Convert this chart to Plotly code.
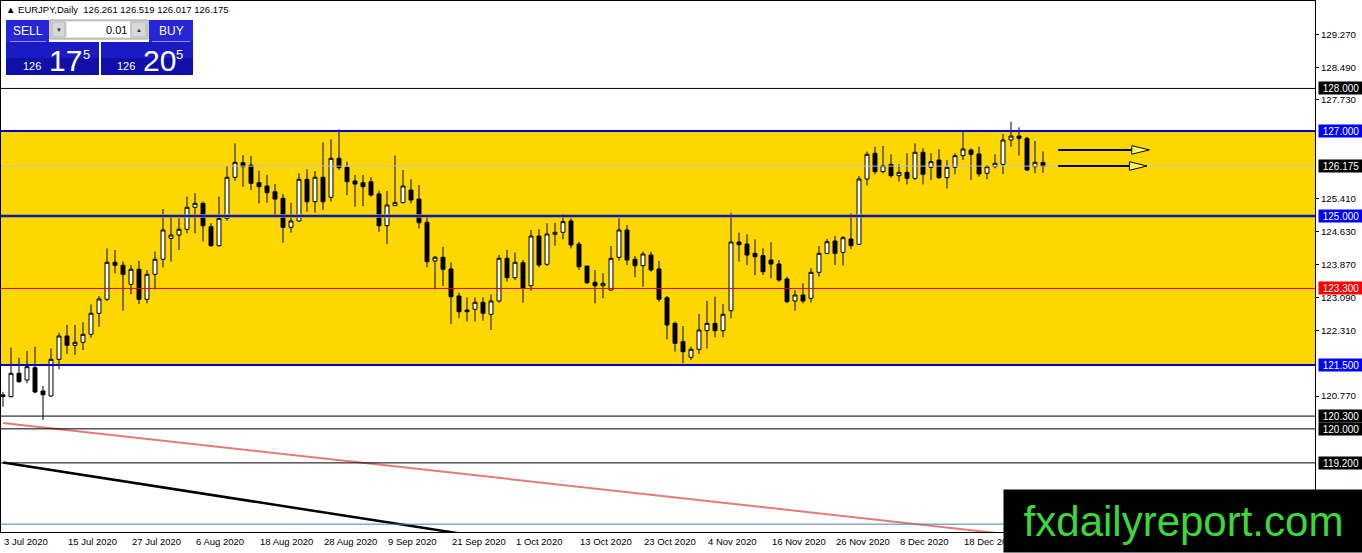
import plotly.graph_objects as go

# ──────────────────────────────────────────────
# datos EURJPY diario
# ──────────────────────────────────────────────

apertura = [120.76, 120.756, 121.305, 121.148, 121.437, 120.89, 120.772, 121.634, 122.182, 121.963,
            122.034, 122.222, 122.716, 123.045, 123.914, 123.844, 123.397, 123.75, 123.045, 123.632,
            123.985, 124.478, 124.556, 124.69, 125.207, 125.30, 124.751, 124.304, 124.948, 125.912,
            126.255, 126.20, 125.785, 125.707, 125.573, 125.418, 124.737, 124.885, 125.865, 125.338,
            125.912, 125.442, 126.358, 126.147, 125.825, 125.785, 125.808, 125.52, 124.774, 125.245,
            125.315, 125.613, 125.40, 124.854, 123.945, 124.032, 123.757, 123.122, 122.793, 122.81,
            122.974, 122.692, 123.005, 124.008, 123.553, 123.905, 123.364, 124.532, 123.867, 124.572,
            124.619, 124.885, 124.344, 123.827, 123.444, 123.364, 123.263, 124.032, 124.673, 123.985,
            123.834, 124.086, 123.757, 123.082, 122.48, 122.048, 121.682, 121.87, 122.307, 122.48,
            122.307, 122.777, 124.391, 124.344, 124.125, 124.07, 123.968, 123.874, 123.522, 123.005,
            123.146, 123.068, 123.679, 124.125, 124.415, 124.149, 124.462, 124.337, 125.872, 126.476,
            126.044, 126.217, 125.95, 126.029, 125.888, 126.50, 126.147, 126.318, 125.902, 126.147,
            126.42, 126.553, 126.459, 126.006, 126.161, 126.217, 126.788, 126.882, 126.828, 126.161,
            126.261]
maximo = [120.87, 121.907, 121.672, 121.83, 121.93, 121.007, 121.893, 122.26, 122.44, 122.44,
          122.504, 122.927, 123.122, 124.243, 124.203, 123.93, 123.85, 123.945, 123.733, 124.163,
          125.167, 125.002, 124.948, 125.456, 125.536, 125.34, 124.83, 125.456, 126.177, 126.711,
          126.436, 126.41, 126.067, 125.966, 125.754, 125.52, 125.315, 126.006, 126.10, 126.06,
          126.734, 126.805, 127.04, 126.279, 125.966, 125.966, 125.912, 125.597, 125.59, 126.42,
          126.083, 125.865, 125.73, 124.986, 124.062, 124.28, 123.914, 123.20, 123.09, 123.09,
          123.09, 123.162, 124.086, 124.203, 124.149, 123.968, 124.673, 124.69, 124.83, 124.845,
          125.05, 124.948, 124.398, 123.827, 123.733, 123.656, 124.297, 124.948, 124.79, 124.062,
          124.163, 124.163, 123.945, 123.122, 122.518, 122.417, 121.93, 122.70, 123.005, 123.106,
          122.934, 125.08, 124.61, 124.572, 124.455, 124.243, 124.384, 123.968, 123.576, 123.263,
          123.42, 123.773, 124.297, 124.462, 124.532, 124.532, 125.066, 125.942, 126.514, 126.631,
          126.647, 126.452, 126.217, 126.476, 126.711, 126.593, 126.476, 126.57, 126.318, 126.476,
          127.007, 126.593, 126.631, 126.20, 126.452, 126.93, 127.219, 127.087, 126.866, 126.765,
          126.519]
minimo = [120.52, 120.741, 121.085, 121.07, 120.835, 120.208, 120.756, 121.40, 121.76, 121.74,
          121.853, 122.142, 122.40, 123.005, 123.656, 122.777, 123.162, 122.934, 122.95, 123.28,
          123.787, 123.93, 124.203, 124.596, 124.596, 124.40, 124.28, 124.28, 124.892, 125.832,
          125.691, 125.613, 125.30, 125.315, 125.026, 124.375, 124.61, 124.868, 125.103, 125.08,
          125.143, 125.338, 126.083, 125.496, 125.221, 125.237, 125.456, 124.633, 124.344, 125.237,
          125.30, 125.30, 124.713, 123.797, 123.28, 123.357, 122.464, 122.598, 122.518, 122.518,
          122.542, 122.323, 122.965, 123.458, 123.498, 122.965, 123.247, 123.797, 123.827, 124.304,
          124.455, 124.243, 123.733, 123.404, 122.95, 123.068, 123.247, 123.952, 123.85, 123.562,
          123.341, 123.693, 122.99, 122.104, 121.813, 121.54, 121.618, 121.76, 121.893, 122.152,
          122.152, 122.598, 123.93, 123.85, 123.616, 123.616, 123.54, 123.458, 122.95, 122.777,
          122.95, 122.965, 123.576, 124.102, 123.85, 123.834, 124.227, 124.321, 125.714, 125.982,
          126.006, 125.90, 125.81, 125.747, 125.848, 125.747, 125.848, 125.872, 125.653, 125.982,
          126.318, 125.848, 125.926, 125.872, 126.123, 125.99, 126.631, 126.42, 126.06, 126.006,
          126.017]
cierre = [120.80, 121.305, 121.108, 121.461, 120.866, 120.80, 121.634, 122.182, 121.963, 122.034,
          122.222, 122.716, 123.052, 123.914, 123.844, 123.632, 123.75, 123.045, 123.632, 123.985,
          124.673, 124.556, 124.69, 125.207, 125.30, 124.774, 124.304, 124.948, 125.912, 126.264,
          126.161, 125.771, 125.691, 125.55, 125.40, 124.737, 124.885, 125.865, 125.338, 125.912,
          125.338, 126.358, 126.138, 125.808, 125.754, 125.691, 125.496, 124.774, 125.261, 125.315,
          125.707, 125.378, 124.845, 123.929, 124.032, 123.75, 123.106, 122.753, 122.753, 122.974,
          122.716, 123.005, 124.008, 123.553, 123.914, 123.303, 124.532, 123.85, 124.579, 124.619,
          124.869, 124.32, 123.81, 123.435, 123.364, 123.42, 124.008, 124.673, 123.968, 123.834,
          124.109, 123.733, 123.045, 122.44, 122.01, 121.813, 121.87, 122.323, 122.48, 122.307,
          122.692, 124.391, 124.328, 124.086, 124.046, 123.693, 123.874, 123.498, 122.99, 123.146,
          123.005, 123.679, 124.125, 124.398, 124.125, 124.492, 124.304, 125.872, 126.452, 126.044,
          126.185, 125.95, 126.029, 125.888, 126.50, 125.982, 126.279, 125.902, 126.147, 126.42,
          126.577, 126.452, 125.99, 126.161, 126.241, 126.788, 126.882, 126.828, 126.083, 126.264,
          126.175]

velas = list(range(len(cierre)))

etiquetas_fecha = ["3 Jul 2020", "15 Jul 2020", "27 Jul 2020", "6 Aug 2020", "18 Aug 2020",
                   "28 Aug 2020", "9 Sep 2020", "21 Sep 2020", "1 Oct 2020", "13 Oct 2020",
                   "23 Oct 2020", "4 Nov 2020", "16 Nov 2020", "26 Nov 2020", "8 Dec 2020",
                   "18 Dec 2020"]
pos_fecha = [0, 8, 16, 24, 32, 40, 48, 56, 64, 72, 80, 88, 96, 104, 112, 120]

ticks_precio = [129.27, 128.49, 127.73, 125.41, 124.63, 123.87, 123.09, 122.31, 120.77]

# niveles horizontales: (precio, color linea, color etiqueta)
niveles = [
    (128.000, "black", "black"),
    (127.000, "#0000CC", "#0000FF"),
    (126.175, "#C0C0C0", "black"),
    (125.000, "#1C1C80", "#0000FF"),
    (123.300, "#E00000", "#FF0000"),
    (121.500, "#0000CC", "#0000FF"),
    (120.300, "black", "black"),
    (120.000, "black", "black"),
    (119.200, "black", "black"),
]
zona_techo, zona_piso = 127.0, 121.5
linea_azul_baja = 117.76

# lineas de tendencia (vela, precio)
tendencia_roja = [(0, 120.14), (130, 117.43)]
tendencia_negra = [(0, 119.207), (60, 117.456)]

# flechas de proyeccion (vela inicio, vela punta, precio)
flechas = [(131.9, 143.3, 126.555), (131.9, 143.0, 126.177)]

ohlc_titulo = "▲ EURJPY,Daily  126.261 126.519 126.017 126.175"

# ──────────────────────────────────────────────
# geometria (px de la ventana -> paper)
# ──────────────────────────────────────────────
W, H = 1362, 553
ML, MT, MR, MB = 1, 1, 47, 21
PW, PH = W - ML - MR, H - MT - MB


def px(x):
    return (x - ML) / PW


def py(y):
    return 1 - (y - MT) / PH


FUENTE = "Liberation Sans"

fig = go.Figure()

fig.add_trace(go.Candlestick(
    x=velas, open=apertura, high=maximo, low=minimo, close=cierre,
    increasing=dict(line=dict(color="black", width=1), fillcolor="white"),
    decreasing=dict(line=dict(color="black", width=1), fillcolor="black"),
    whiskerwidth=0, hoverinfo="skip", showlegend=False
))

for tend, color, ancho in [(tendencia_roja, "#E47A7A", 2), (tendencia_negra, "black", 2.5)]:
    fig.add_trace(go.Scatter(
        x=[p[0] for p in tend], y=[p[1] for p in tend], mode="lines",
        line=dict(color=color, width=ancho), hoverinfo="skip", showlegend=False
    ))

shapes = []
annotations = []

# zona amarilla
shapes.append(dict(type="rect", xref="paper", yref="y", x0=0, x1=1, y0=zona_piso, y1=zona_techo,
                   fillcolor="#FFD700", line=dict(width=0), layer="below"))

shapes.append(dict(type="line", xref="paper", yref="y", x0=0, x1=1, y0=linea_azul_baja, y1=linea_azul_baja,
                   line=dict(color="#4682B4", width=1), layer="above"))

for precio, c_linea, c_etq in niveles:
    ancho = 2 if c_linea in ("#0000CC", "#1C1C80") else 1
    if precio == 125.0:
        shapes.append(dict(type="line", xref="paper", yref="y", x0=0, x1=1, y0=precio, y1=precio,
                           line=dict(color="#8C8C8C", width=3.5), layer="above"))
    shapes.append(dict(type="line", xref="paper", yref="y", x0=0, x1=1, y0=precio, y1=precio,
                       line=dict(color=c_linea, width=ancho), layer="above"))
    annotations.append(dict(xref="paper", yref="y", x=1, y=precio, xanchor="left", yanchor="middle",
                            xshift=2.5, text=f"{precio:.3f}", showarrow=False, bgcolor=c_etq,
                            width=42, height=10, borderpad=1,
                            font=dict(family=FUENTE, size=10, color="white")))

# flechas
for x0, x1, precio in flechas:
    base = x1 - 2.2
    shapes.append(dict(type="line", xref="x", yref="y", x0=x0, x1=base, y0=precio, y1=precio,
                       line=dict(color="black", width=2), layer="above"))
    shapes.append(dict(type="path", xref="x", yref="y",
                       path=f"M {x1},{precio} L {base},{precio + 0.1} L {base},{precio - 0.1} Z",
                       fillcolor="#FFFF55", line=dict(color="black", width=1), layer="above"))

# fechas del eje inferior
for i, txt in zip(pos_fecha, etiquetas_fecha):
    annotations.append(dict(xref="x", yref="paper", x=i - 0.15, y=py(541.5), xanchor="left", yanchor="middle",
                            text=txt, showarrow=False, font=dict(family=FUENTE, size=9.5, color="black")))

# titulo de la ventana
annotations.append(dict(xref="paper", yref="paper", x=px(4), y=py(10), xanchor="left", yanchor="middle",
                        text=ohlc_titulo, showarrow=False, font=dict(family=FUENTE, size=9.5, color="black")))

# ──────────────────────────────────────────────
# panel de trading (SELL / BUY)
# ──────────────────────────────────────────────


def caja(x0, y0, x1, y1, relleno, borde=None):
    shapes.append(dict(type="rect", xref="paper", yref="paper", x0=px(x0), x1=px(x1), y0=py(y1), y1=py(y0),
                       fillcolor=relleno, line=dict(color=borde or relleno, width=1 if borde else 0),
                       layer="above"))


def texto(x, y, txt, size, color="white", anchor="left"):
    annotations.append(dict(xref="paper", yref="paper", x=px(x), y=py(y), xanchor=anchor, yanchor="middle",
                            text=txt, showarrow=False, borderpad=0,
                            font=dict(family=FUENTE, size=size, color=color)))


caja(6, 20, 49, 42, "#2626D6")
caja(149, 20, 193, 42, "#2626D6")
caja(6, 42, 99, 58, "#1B1BC4")
caja(6, 58, 99, 75, "#1010A8")
caja(101, 42, 193, 58, "#1B1BC4")
caja(101, 58, 193, 75, "#1010A8")
caja(50, 20, 148, 39, "#E4E4E4", "#9A9A9A")
caja(52, 22, 65, 37, "#D8D8D8", "#B0B0B0")
caja(67, 22, 130, 37, "white")
caja(131, 22, 146, 37, "#D8D8D8", "#B0B0B0")
for a, b in [(10, 46), (152, 190)]:
    shapes.append(dict(type="line", xref="paper", yref="paper", x0=px(a), x1=px(b), y0=py(41.5), y1=py(41.5),
                       line=dict(color="#9090E0", width=1), layer="above"))

texto(27.5, 31, "SELL", 12, anchor="center")
texto(171, 31, "BUY", 12, anchor="center")
texto(58.5, 30, "▼", 6, color="#333333", anchor="center")
texto(138.5, 30, "▲", 6, color="#333333", anchor="center")
texto(128, 30, "0.01", 11, color="black", anchor="right")
texto(22, 66, "126", 11)
texto(48, 60, "17", 30)
texto(82, 54, "5", 13)
texto(116, 66, "126", 11)
texto(142, 60, "20", 30)
texto(175, 54, "5", 13)

# marca de agua
annotations.append(dict(xref="paper", yref="paper", x=px(1003), y=py(553), xanchor="left", yanchor="bottom",
                        width=359, height=62, bgcolor="black", borderpad=0, showarrow=False,
                        text="fxdailyreport.com", valign="middle",
                        font=dict(family=FUENTE, size=42, color="#3AD83A")))

fig.update_layout(
    width=W, height=H,
    margin=dict(l=ML, r=MR, t=MT, b=MB),
    paper_bgcolor="white", plot_bgcolor="white",
    shapes=shapes, annotations=annotations,
    showlegend=False, hovermode=False,
    xaxis=dict(range=[-0.25, -0.25 + PW / 8], showticklabels=False, showgrid=False, zeroline=False,
               showline=True, mirror=True, linecolor="black", linewidth=1,
               rangeslider=dict(visible=False), fixedrange=True),
    yaxis=dict(side="right", range=[127 - (H - MB - 131) / 42.55, 127 + 130 / 42.55],
               tickvals=ticks_precio, tickformat=".3f",
               ticks="outside", ticklen=3, tickcolor="black", showgrid=False, zeroline=False,
               showline=True, mirror=True, linecolor="black", linewidth=1, fixedrange=True,
               tickfont=dict(family=FUENTE, size=9.7, color="black")),
)

# sin margen del body para que el grafico ocupe la ventana completa
fig.write_html("out.html", config={"displayModeBar": False},
               post_script="document.body.style.margin='0';")
